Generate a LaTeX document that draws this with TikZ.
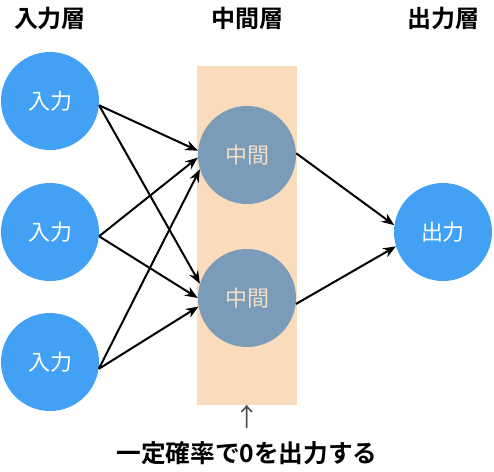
\documentclass[tikz,border=0pt]{standalone}
\usepackage{fontspec}
\newfontfamily\jp{Noto Sans CJK JP}
\newfontfamily\jpb{Noto Sans CJK JP Bold}
\usetikzlibrary{arrows.meta}
\definecolor{inblue}{HTML}{42A1F5}
\definecolor{midgray}{HTML}{7B9CB8}
\definecolor{peach}{HTML}{FADCBC}
\definecolor{midtext}{HTML}{F4DEC4}
\begin{document}
\begin{tikzpicture}[x=0.75pt,y=-0.75pt,
  unit/.style={circle,minimum size=73.5pt,inner sep=0pt,font=\jp\fontsize{16.5}{16.5}\selectfont},
  inunit/.style={unit,fill=inblue,text=white},
  midunit/.style={unit,fill=midgray,text=midtext},
  title/.style={font=\jpb\fontsize{18}{18}\selectfont},
  conn/.style={line width=1.5pt,-{Stealth[length=9.5pt,width=7.5pt]}}]
\useasboundingbox (0,0) rectangle (494,472);
\fill[peach] (197,66) rectangle (297,405);
\node[title] (t1) at (50,18) {入力層};
\node[title] (t2) at (247,18) {中間層};
\node[title] (t3) at (443,18) {出力層};
\node[inunit] (in1) at (50,101) {入力};
\node[inunit] (in2) at (50,232) {入力};
\node[inunit] (in3) at (50,362) {入力};
\node[midunit] (mid1) at (247,155) {中間};
\node[midunit] (mid2) at (247,298) {中間};
\node[inunit] (out) at (443,232) {出力};
\draw[conn] (in1.-5) -- (mid1.175);
\draw[conn] (in1.-5) -- (mid2.163);
\draw[conn] (in2.-5) -- (mid1.183);
\draw[conn] (in2.-5) -- (mid2.180);
\draw[conn] (in3.-8) -- (mid1.197);
\draw[conn] (in3.-8) -- (mid2.190);
\draw[conn] (mid1.2) -- (out.172);
\draw[conn] (mid2.-7) -- (out.197);
\node[font=\jp\fontsize{19}{19}\selectfont,text=black!70] (up) at (247,417) {↑};
\node[font=\jpb\fontsize{18.5}{18.5}\selectfont] (note) at (247,453) {一定確率で0を出力する};
\end{tikzpicture}
\end{document}
